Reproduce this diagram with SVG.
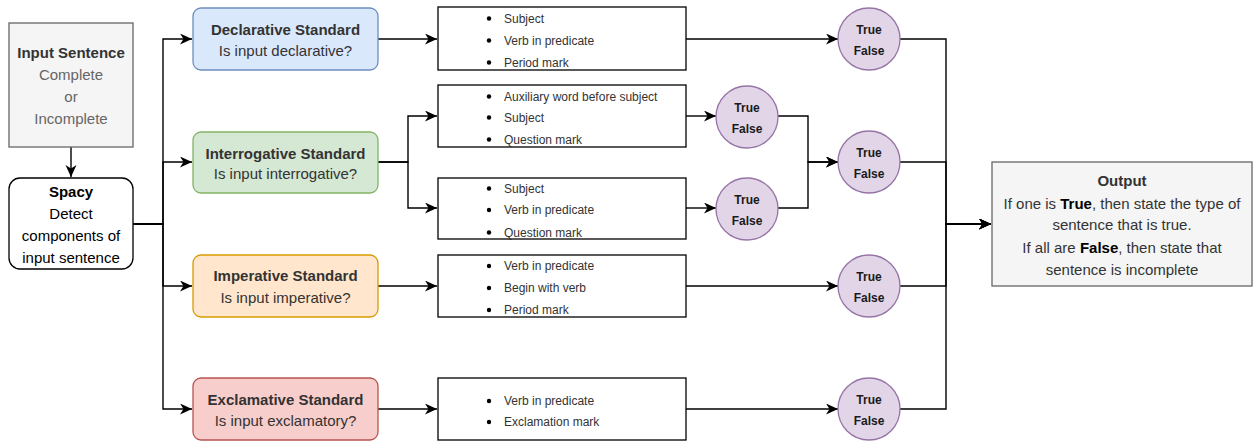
<svg xmlns="http://www.w3.org/2000/svg" width="1253" height="442" viewBox="0 0 1253 442">
<style>
text{font-family:"Liberation Sans",Arial,sans-serif;text-anchor:middle}
.t15{font-size:15px;fill:#333}
.b{font-weight:bold}
.lite{fill:#666}
.li{font-size:12px;fill:#333;text-anchor:start}
.tf{font-size:12px;font-weight:bold;fill:#1a1a1a}
.box{fill:#fff;stroke:#000;stroke-width:1.3}
.circ{fill:#e1d5e7;stroke:#9673a6;stroke-width:1.3}
.gray{fill:#f5f5f5;stroke:#666;stroke-width:1.3}
.conn path{fill:none;stroke:#000;stroke-width:1.4}
</style>
<defs>
<marker id="arr" markerUnits="userSpaceOnUse" markerWidth="14" markerHeight="12" refX="12" refY="5.5" orient="auto">
<path d="M0,0 L12,5.5 L0,11 L3.5,5.5 Z" fill="#000"/>
</marker>
</defs>

<g class="conn">
<path d="M71,147 V177" marker-end="url(#arr)"/>
<path d="M133,224 H163 V39 H192" marker-end="url(#arr)"/>
<path d="M133,224 H163 V162 H192" marker-end="url(#arr)"/>
<path d="M133,224 H163 V286 H192" marker-end="url(#arr)"/>
<path d="M133,224 H163 V409 H192" marker-end="url(#arr)"/>
<path d="M378,39 H437" marker-end="url(#arr)"/>
<path d="M378,162 H408 V116 H437" marker-end="url(#arr)"/>
<path d="M378,162 H408 V208 H437" marker-end="url(#arr)"/>
<path d="M378,286 H437" marker-end="url(#arr)"/>
<path d="M378,409 H437" marker-end="url(#arr)"/>
<path d="M686,39 H838" marker-end="url(#arr)"/>
<path d="M686,116 H716" marker-end="url(#arr)"/>
<path d="M686,208 H716" marker-end="url(#arr)"/>
<path d="M778,116 H808 V162 H838" marker-end="url(#arr)"/>
<path d="M778,208 H808 V162 H838" marker-end="url(#arr)"/>
<path d="M686,286 H838" marker-end="url(#arr)"/>
<path d="M686,409 H838" marker-end="url(#arr)"/>
<path d="M900,39 H946 V224 H991" marker-end="url(#arr)"/>
<path d="M900,162 H946 V224 H991" marker-end="url(#arr)"/>
<path d="M900,286 H946 V224 H991" marker-end="url(#arr)"/>
<path d="M900,409 H946 V224 H991" marker-end="url(#arr)"/>
</g>

<g id="input">
<rect class="gray" x="9" y="23" width="124" height="124"/>
<text class="t15 b" x="71" y="58">Input Sentence</text>
<text class="t15 lite" x="71" y="80">Complete</text>
<text class="t15 lite" x="71" y="102">or</text>
<text class="t15 lite" x="71" y="124">Incomplete</text>
</g>

<g id="spacy">
<rect class="box" x="9" y="178" width="124" height="91" rx="11"/>
<text class="t15 b" x="71" y="197" style="fill:#000">Spacy</text>
<text class="t15" x="71" y="219" style="fill:#000">Detect</text>
<text class="t15" x="71" y="241" style="fill:#000">components of</text>
<text class="t15" x="71" y="263" style="fill:#000">input sentence</text>
</g>

<g id="declarative">
<rect x="193" y="8" width="185" height="62" rx="8" fill="#dae8fc" stroke="#6c8ebf" stroke-width="1.3"/>
<text class="t15 b" x="285.5" y="34.5">Declarative Standard</text>
<text class="t15" x="285.5" y="56">Is input declarative?</text>
</g>
<g id="interrogative">
<rect x="193" y="132" width="185" height="61" rx="8" fill="#d5e8d4" stroke="#82b366" stroke-width="1.3"/>
<text class="t15 b" x="285.5" y="158.5">Interrogative Standard</text>
<text class="t15" x="285.5" y="179">Is input interrogative?</text>
</g>
<g id="imperative">
<rect x="193" y="255" width="185" height="62" rx="8" fill="#ffe6cc" stroke="#d79b00" stroke-width="1.3"/>
<text class="t15 b" x="285.5" y="281">Imperative Standard</text>
<text class="t15" x="285.5" y="302.5">Is input imperative?</text>
</g>
<g id="exclamative">
<rect x="193" y="378" width="185" height="62" rx="8" fill="#f8cecc" stroke="#b85450" stroke-width="1.3"/>
<text class="t15 b" x="285.5" y="404.5">Exclamative Standard</text>
<text class="t15" x="285.5" y="426">Is input exclamatory?</text>
</g>

<g id="list1">
<rect class="box" x="438" y="7" width="248" height="63"/>
<circle cx="489" cy="18.5" r="2.2"/><text class="li" x="504" y="22.5">Subject</text>
<circle cx="489" cy="40.5" r="2.2"/><text class="li" x="504" y="45">Verb in predicate</text>
<circle cx="489" cy="62.5" r="2.2"/><text class="li" x="504" y="67">Period mark</text>
</g>
<g id="list2">
<rect class="box" x="438" y="85" width="248" height="62"/>
<circle cx="489" cy="96.5" r="2.2"/><text class="li" x="504" y="101">Auxiliary word before subject</text>
<circle cx="489" cy="117.5" r="2.2"/><text class="li" x="504" y="121.5">Subject</text>
<circle cx="489" cy="139.5" r="2.2"/><text class="li" x="504" y="143.5">Question mark</text>
</g>
<g id="list3">
<rect class="box" x="438" y="178" width="248" height="61"/>
<circle cx="489" cy="188.5" r="2.2"/><text class="li" x="504" y="192.5">Subject</text>
<circle cx="489" cy="210" r="2.2"/><text class="li" x="504" y="214">Verb in predicate</text>
<circle cx="489" cy="232.5" r="2.2"/><text class="li" x="504" y="236.5">Question mark</text>
</g>
<g id="list4">
<rect class="box" x="438" y="255" width="248" height="62"/>
<circle cx="489" cy="266" r="2.2"/><text class="li" x="504" y="270">Verb in predicate</text>
<circle cx="489" cy="288" r="2.2"/><text class="li" x="504" y="292">Begin with verb</text>
<circle cx="489" cy="310" r="2.2"/><text class="li" x="504" y="314">Period mark</text>
</g>
<g id="list5">
<rect class="box" x="438" y="378" width="248" height="62"/>
<circle cx="489" cy="401" r="2.2"/><text class="li" x="504" y="405">Verb in predicate</text>
<circle cx="489" cy="422" r="2.2"/><text class="li" x="504" y="426">Exclamation mark</text>
</g>

<g id="tf-interrog-a">
<circle class="circ" cx="747" cy="117" r="31"/>
<text class="tf" x="747" y="111.5">True</text><text class="tf" x="747" y="132.5">False</text>
</g>
<g id="tf-interrog-b">
<circle class="circ" cx="747" cy="209" r="31"/>
<text class="tf" x="747" y="203.5">True</text><text class="tf" x="747" y="224.5">False</text>
</g>
<g id="tf-declarative">
<circle class="circ" cx="869" cy="39" r="31"/>
<text class="tf" x="869" y="33.5">True</text><text class="tf" x="869" y="54.5">False</text>
</g>
<g id="tf-interrogative">
<circle class="circ" cx="869" cy="162" r="31"/>
<text class="tf" x="869" y="156.5">True</text><text class="tf" x="869" y="177.5">False</text>
</g>
<g id="tf-imperative">
<circle class="circ" cx="869" cy="286" r="31"/>
<text class="tf" x="869" y="280.5">True</text><text class="tf" x="869" y="301.5">False</text>
</g>
<g id="tf-exclamative">
<circle class="circ" cx="869" cy="409" r="31"/>
<text class="tf" x="869" y="403.5">True</text><text class="tf" x="869" y="424.5">False</text>
</g>

<g id="output">
<rect class="gray" x="992" y="162" width="260" height="124"/>
<text class="t15 b" x="1122" y="186">Output</text>
<text class="t15" x="1122" y="208.5">If one is <tspan class="b" style="fill:#000">True</tspan>, then state the type of</text>
<text class="t15" x="1122" y="230">sentence that is true.</text>
<text class="t15" x="1122" y="252.5">If all are <tspan class="b" style="fill:#000">False</tspan>, then state that</text>
<text class="t15" x="1122" y="274.5">sentence is incomplete</text>
</g>
</svg>
